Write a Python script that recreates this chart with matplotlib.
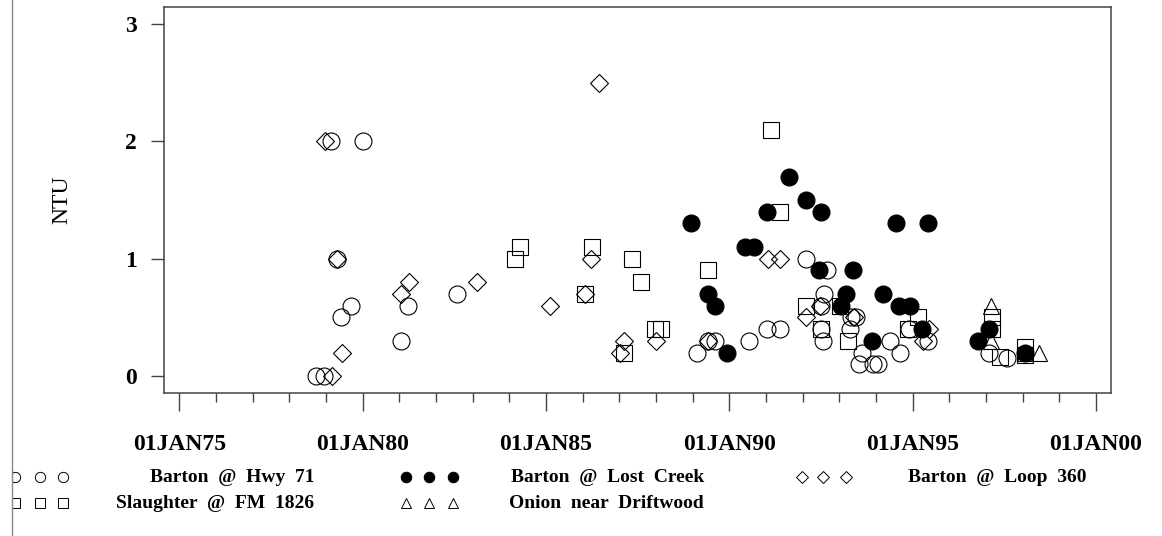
import matplotlib.pyplot as plt
from matplotlib.lines import Line2D
from matplotlib.patches import Rectangle
from matplotlib.ticker import MultipleLocator

# Turbidity samples (decimal year, NTU)
hwy71_year = [1978.72, 1978.94, 1979.13, 1980.02, 1979.31, 1979.68, 1979.42, 1981.24,
              1981.04, 1982.56, 1989.12, 1989.41, 1989.60, 1990.53, 1991.02, 1991.37,
              1992.09, 1992.66, 1992.57, 1992.50, 1992.50, 1992.55, 1993.33, 1993.28,
              1993.63, 1993.55, 1993.91, 1994.05, 1994.37, 1994.66, 1994.91, 1995.41,
              1997.07, 1997.56, 1993.46]
hwy71_ntu = [0.0, 0.0, 2.0, 2.0, 1.0, 0.6, 0.5, 0.6,
             0.3, 0.7, 0.2, 0.3, 0.3, 0.3, 0.4, 0.4,
             1.0, 0.9, 0.7, 0.6, 0.4, 0.3, 0.5, 0.4,
             0.2, 0.1, 0.1, 0.1, 0.3, 0.2, 0.4, 0.3,
             0.2, 0.15, 0.5]

lost_creek_year = [1988.95, 1989.43, 1989.60, 1989.93, 1990.42, 1990.66, 1991.02, 1991.62,
                   1992.09, 1992.50, 1992.44, 1993.37, 1993.19, 1993.05, 1993.89, 1994.20,
                   1994.55, 1995.41, 1994.64, 1994.93, 1995.26, 1996.77, 1997.07, 1998.06]
lost_creek_ntu = [1.3, 0.7, 0.6, 0.2, 1.1, 1.1, 1.4, 1.7,
                  1.5, 1.4, 0.9, 0.9, 0.7, 0.6, 0.3, 0.7,
                  1.3, 1.3, 0.6, 0.6, 0.4, 0.3, 0.4, 0.2]

loop360_year = [1978.97, 1979.31, 1979.17, 1979.43, 1981.05, 1981.25, 1983.13, 1985.10,
                1986.06, 1986.22, 1986.44, 1987.03, 1987.12, 1988.01, 1989.41, 1991.05,
                1991.37, 1992.09, 1992.47, 1993.40, 1995.45, 1995.27]
loop360_ntu = [2.0, 1.0, 0.0, 0.2, 0.7, 0.8, 0.8, 0.6,
               0.7, 1.0, 2.5, 0.2, 0.3, 0.3, 0.3, 1.0,
               1.0, 0.5, 0.6, 0.5, 0.4, 0.3]

fm1826_year = [1984.15, 1984.28, 1986.06, 1986.25, 1987.34, 1987.58, 1987.12, 1987.96,
               1988.14, 1989.41, 1991.14, 1991.39, 1992.09, 1992.50, 1993.02, 1993.23,
               1994.86, 1995.14, 1997.16, 1997.16, 1997.38, 1998.06, 1998.06]
fm1826_ntu = [1.0, 1.1, 0.7, 1.1, 1.0, 0.8, 0.2, 0.4,
              0.4, 0.9, 2.1, 1.4, 0.6, 0.4, 0.6, 0.3,
              0.4, 0.5, 0.5, 0.4, 0.16, 0.25, 0.18]

onion_year = [1997.14, 1997.14, 1998.45, 1998.06]
onion_ntu = [0.6, 0.3, 0.2, 0.2]

tick_years = [1975, 1980, 1985, 1990, 1995, 2000]
tick_labels = ['01JAN75', '01JAN80', '01JAN85', '01JAN90', '01JAN95', '01JAN00']

W, H = 1162, 536
plt.rcParams['font.family'] = ['Liberation Serif', 'DejaVu Serif']
plt.rcParams['font.weight'] = 'bold'

fig = plt.figure(figsize=(W / 100, H / 100), dpi=100)
ax = fig.add_axes([164 / W, 1 - 393 / H, 947 / W, 386 / H])

ms = 12.2
ax.plot(hwy71_year, hwy71_ntu, 'o', ms=ms, mfc='none', mec='black', mew=0.8)
ax.plot(lost_creek_year, lost_creek_ntu, 'o', ms=ms, mfc='black', mec='black', mew=0.8)
ax.plot(loop360_year, loop360_ntu, 'D', ms=8.7, mfc='none', mec='black', mew=0.8)
ax.plot(fm1826_year, fm1826_ntu, 's', ms=12.2, mfc='none', mec='black', mew=0.8)
ax.plot(onion_year, onion_ntu, '^', ms=12.2, mfc='none', mec='black', mew=0.8)

ax.set_xlim(1974.58, 2000.41)
ax.set_ylim(-0.145, 3.145)
ax.set_xticks(tick_years)
ax.set_xticklabels(tick_labels)
ax.xaxis.set_minor_locator(MultipleLocator(1))
ax.set_yticks([0, 1, 2, 3])

spine_color = '#444444'
for s in ax.spines.values():
    s.set_color(spine_color)
    s.set_linewidth(1.1)
ax.tick_params(axis='x', which='major', length=12.7, width=1, color=spine_color,
               pad=17, labelsize=17)
ax.tick_params(axis='x', which='minor', length=6.5, width=1, color=spine_color)
ax.tick_params(axis='y', which='major', length=9.4, width=1, color=spine_color,
               pad=10, labelsize=17)

ax.set_ylabel('NTU', fontsize=17, va='center')
ax.yaxis.set_label_coords(-0.108, 0.5)

# legend rows built by hand, SAS style
legend_rows = [
    ('o', 'none', 7.4, [15, 40, 63], 477, 'Barton  @  Hwy  71', 314),
    ('o', 'black', 7.6, [406, 429, 453], 477, 'Barton  @  Lost  Creek', 704),
    ('D', 'none', 6.2, [802, 823, 846], 477, 'Barton  @  Loop  360', 1087),
    ('s', 'none', 7.2, [15, 40, 63], 503, 'Slaughter  @  FM  1826', 314),
    ('^', 'none', 7.6, [406, 429, 453], 503, 'Onion  near  Driftwood', 704),
]
for marker, face, size, xs, y, label, text_right in legend_rows:
    fig.add_artist(Line2D([x / W for x in xs], [1 - y / H] * 3, transform=fig.transFigure,
                          ls='none', marker=marker, ms=size, mfc=face, mec='black', mew=0.7))
    fig.text(text_right / W, 1 - (y + 1) / H, label, ha='right', va='center', fontsize=14)

# the picture is cut off at the left: blank strip plus a thin border line
fig.add_artist(Rectangle((0, 0), 12 / W, 1, transform=fig.transFigure,
                         facecolor='white', edgecolor='none', zorder=10))
fig.add_artist(Line2D([12 / W, 12 / W], [0, 1], transform=fig.transFigure,
                      color='#888888', lw=1, zorder=11))

fig.savefig('out.png', dpi=100)
